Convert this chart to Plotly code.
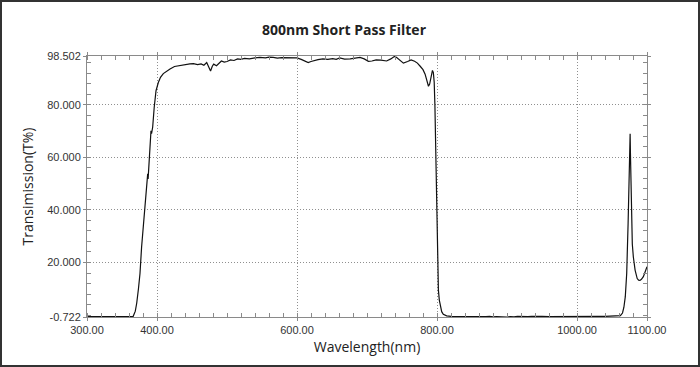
import plotly.graph_objects as go

wavelength = [300, 320, 340, 360, 366, 369, 371, 373.5, 375.7, 378, 380, 380.8, 382, 384, 386, 386.7, 387.3, 388, 390, 391.4, 392.2, 393.8, 396, 398.6, 401.9, 405, 409, 414, 418.6, 425, 432.9, 440, 447, 452, 458, 463, 467, 471, 474, 476.5, 479, 481, 485, 488, 492, 496, 500, 505, 510, 515, 520, 525, 532, 540, 547, 555, 560, 566, 572, 578, 585, 592, 600, 606, 612, 616, 620, 624, 630, 637, 644, 651, 656, 661, 668, 676, 683, 690, 696, 702, 707, 713, 720, 728, 734, 739, 742, 746, 752, 758, 763, 768, 772, 776, 780, 783, 786, 787.8, 789.5, 791, 793.5, 794.8, 796, 797, 798, 799.5, 801, 802, 803.3, 805, 806.7, 809, 813.8, 820, 830, 840, 850, 860, 870, 875, 880, 885, 890, 895, 900, 905, 910, 915, 920, 925, 930, 935, 940, 950, 960, 970, 980, 990, 1000, 1010, 1020, 1030, 1040, 1050, 1058, 1062, 1065, 1067, 1069, 1071, 1073, 1074.8, 1075.5, 1075.9, 1076.3, 1076.7, 1078, 1079, 1080.5, 1083, 1086, 1088, 1090, 1092, 1094.8, 1097, 1100]
transmission = [-0.55, -0.55, -0.57, -0.55, -0.45, 1.5, 4.5, 10, 15.8, 25.9, 32.5, 34.5, 38, 44.8, 51.5, 53.7, 51.8, 55, 62.5, 70.1, 69, 71.4, 78.9, 85.3, 88.4, 90.4, 91.8, 92.9, 93.6, 94.5, 94.9, 95.3, 95.5, 95.6, 95.2, 95.5, 95.0, 96.0, 94.5, 92.8, 94.6, 95.4, 94.8, 95.6, 96.6, 96.2, 96.4, 97.0, 96.8, 97.4, 97.2, 97.6, 97.4, 97.8, 98.0, 97.8, 98.1, 98.0, 97.7, 97.9, 97.8, 97.9, 97.8, 97.2, 96.3, 96.0, 96.4, 96.8, 97.1, 97.4, 97.2, 97.5, 97.2, 97.8, 97.3, 97.4, 97.7, 98.0, 97.4, 96.5, 96.6, 97.0, 96.9, 96.6, 97.4, 98.3, 98.0, 97.0, 95.8, 96.4, 97.0, 96.5, 95.8, 94.6, 93.3, 91.6, 89.0, 87.0, 87.8, 89.8, 93.0, 92.2, 88.5, 80, 66.3, 41.1, 15.8, 9.5, 5.7, 2.8, 1.3, 0.3, -0.3, -0.45, -0.5, -0.48, -0.55, -0.5, -0.6, -0.45, -0.7, -0.55, -0.65, -0.5, -0.72, -0.55, -0.68, -0.5, -0.62, -0.48, -0.6, -0.5, -0.58, -0.52, -0.55, -0.5, -0.6, -0.5, -0.55, -0.5, -0.48, -0.45, -0.5, -0.45, -0.4, -0.2, 0.8, 3.0, 7, 15.8, 34.8, 53.7, 67, 68.9, 62, 53.7, 34.8, 27, 22.1, 17.1, 13.9, 13.3, 13.2, 13.6, 14.6, 16, 18.4]

x_ticks = [300, 400, 600, 800, 1000, 1100]
x_ticklabels = ["300.00", "400.00", "600.00", "800.00", "1000.00", "1100.00"]
y_ticks = [-0.722, 20, 40, 60, 80, 98.502]
y_ticklabels = ["-0.722", "20.000", "40.000", "60.000", "80.000", "98.502"]

W, H = 700, 367
L, R, T, B = 87, 53, 56, 50
pw, ph = W - L - R, H - T - B

fig = go.Figure()
fig.add_trace(go.Scatter(x=wavelength, y=transmission, mode="lines",
                         line=dict(color="#111111", width=1.2), showlegend=False))

tickfont = dict(family="Liberation Sans, Arial", size=11, color="#333333")
titlefont = dict(family="Open Sans, Noto Sans", size=14, color="#222222")
fig.update_layout(
    width=W, height=H,
    margin=dict(l=L, r=R, t=T, b=B, autoexpand=False),
    paper_bgcolor="white", plot_bgcolor="white",
    title=dict(text="<b>800nm Short Pass Filter</b>", x=344 / W, xanchor="center",
               y=1 - 30 / H, yanchor="middle",
               font=dict(family="Open Sans, Noto Sans", size=14, color="#222222")),
    xaxis=dict(range=[300, 1100], tickvals=x_ticks, ticktext=x_ticklabels, automargin=False,
               showgrid=True, gridcolor="#8f8f8f", griddash="1px,2px", gridwidth=1,
               showline=True, linecolor="#8a8a8a", linewidth=1, mirror="allticks",
               ticks="outside", ticklen=3, tickcolor="#8a8a8a",
               minor=dict(dtick=20, tick0=300, ticks="inside", ticklen=4, tickcolor="#8a8a8a", showgrid=False),
               tickfont=tickfont, zeroline=False,
               title=dict(text="Wavelength(nm)", standoff=6, font=titlefont)),
    yaxis=dict(range=[-0.722, 98.502], tickvals=y_ticks, ticktext=y_ticklabels, automargin=False,
               showgrid=True, gridcolor="#8f8f8f", griddash="1px,2px", gridwidth=1,
               showline=True, linecolor="#8a8a8a", linewidth=1, mirror="allticks",
               ticks="outside", ticklen=3, tickcolor="#8a8a8a",
               minor=dict(dtick=4, tick0=0, ticks="inside", ticklen=4, tickcolor="#8a8a8a", showgrid=False),
               tickfont=tickfont, zeroline=False,
               title=dict(text="Transimission(T%)", standoff=10, font=titlefont)),
)

# outer picture border
fig.add_shape(type="rect", xref="paper", yref="paper",
              x0=-(L - 1) / pw, x1=1 + (R - 1) / pw,
              y0=-(B - 1) / ph, y1=1 + (T - 1) / ph,
              line=dict(color="#333333", width=2), layer="above")

fig.write_html("out.html", config={"displayModeBar": False},
               post_script="document.body.style.margin='0';")
